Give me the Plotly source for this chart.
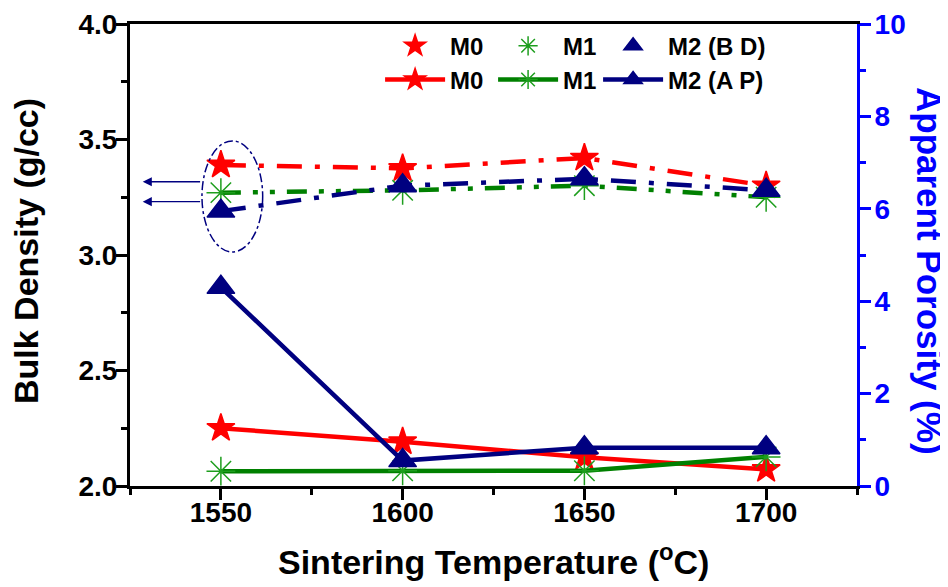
import plotly.graph_objects as go

temps = [1550, 1600, 1650, 1700]

bd_m0 = [3.39, 3.375, 3.42, 3.30]
bd_m1 = [3.27, 3.28, 3.30, 3.25]
bd_m2 = [3.19, 3.30, 3.33, 3.28]

ap_m0 = [1.25, 0.96, 0.62, 0.36]
ap_m1 = [0.32, 0.33, 0.33, 0.63]
ap_m2 = [4.30, 0.55, 0.83, 0.83]

x_ticks = [1550, 1600, 1650, 1700]
y_ticks = [2.0, 2.5, 3.0, 3.5, 4.0]
y2_ticks = [0, 2, 4, 6, 8, 10]

RED = "#FF0000"
GREEN = "#008000"
AST_GREEN = "#1E9E1E"
NAVY = "#000080"
BLUE = "#0000FF"
FONT = "Liberation Sans, Arial, sans-serif"
DASHDOT = "25px,13px,5px,13px"
DASHDOTDOT = "20px,12px,5px,12px,5px,12px"

fig = go.Figure()

series_bd = [
    ("M0", bd_m0, RED, "star", RED, 21, DASHDOT, 38),
    ("M1", bd_m1, GREEN, "asterisk-open", AST_GREEN, 24, DASHDOTDOT, 30),
    ("M2 (B D)", bd_m2, NAVY, "triangle-up", NAVY, 24, DASHDOT, 140),
]
series_ap = [
    ("M0", ap_m0, RED, "star", RED, 21, 38),
    ("M1", ap_m1, GREEN, "asterisk-open", AST_GREEN, 24, 30),
    ("M2 (A P)", ap_m2, NAVY, "triangle-up", NAVY, 24, 140),
]

# Bulk density (dash-dot, left axis)
for name, ys, col, sym, mcol, msize, dash, lw in series_bd:
    fig.add_trace(go.Scatter(
        x=temps, y=ys, name=name, mode="lines+markers", yaxis="y",
        line=dict(color=col, width=4.5, dash=dash),
        marker=dict(symbol=sym, size=msize, color=mcol, line=dict(width=1.5, color=mcol)),
        legend="legend", showlegend=False,
    ))
    # legend entry (markers only)
    fig.add_trace(go.Scatter(
        x=[None], y=[None], name=name, mode="markers", yaxis="y",
        marker=dict(symbol=sym, size=msize, color=mcol, line=dict(width=1.5, color=mcol)),
        legend="legend", showlegend=True, legendwidth=lw,
    ))

# Apparent porosity (solid, right axis)
for name, ys, col, sym, mcol, msize, lw in series_ap:
    fig.add_trace(go.Scatter(
        x=temps, y=ys, name=name, mode="lines+markers", yaxis="y2",
        line=dict(color=col, width=4.5),
        marker=dict(symbol=sym, size=msize, color=mcol, line=dict(width=1.5, color=mcol)),
        legend="legend2", showlegend=True, legendwidth=lw,
    ))

# ellipse highlighting the bulk-density points at 1550 C
fig.add_shape(type="circle", xref="x", yref="y",
              x0=1544.8, x1=1561.5, y0=3.013, y1=3.494,
              line=dict(color=NAVY, width=1.5, dash="dashdot"))

# arrows pointing to the left (bulk density) axis
for yv in [3.317, 3.231]:
    fig.add_annotation(x=1528.5, y=yv, ax=1544.7, ay=yv, xref="x", yref="y",
                       axref="x", ayref="y", text="", showarrow=True,
                       arrowhead=2, arrowsize=1.3, arrowwidth=1.4, arrowcolor=NAVY)

title_font = dict(family=FONT, size=34, color="black", weight="bold")

# axis titles
fig.add_annotation(text="Bulk Density (g/cc)", xref="paper", yref="paper",
                   x=0.0, xshift=-104, y=0.5, yshift=4, xanchor="center", yanchor="middle",
                   textangle=-90, showarrow=False, font=title_font)
fig.add_annotation(text="Sintering Temperature (<sup>o</sup>C)", xref="paper", yref="paper",
                   x=0.5, y=0.0, yshift=-73, xanchor="center", yanchor="middle",
                   showarrow=False, font=title_font)
fig.add_annotation(text="Apparent Porosity (%)", xref="paper", yref="paper",
                   x=1.0, xshift=73, y=0.5, yshift=-16, xanchor="center", yanchor="middle",
                   textangle=90, showarrow=False,
                   font=dict(family=FONT, size=35, color=BLUE, weight="bold"))

axis_common = dict(
    showgrid=False, zeroline=False, ticks="outside", ticklen=11, tickwidth=3,
    linewidth=3, showline=True, automargin=False,
)

# the page body adds an 8px offset, so margins are shifted accordingly
fig.update_layout(
    width=948, height=587,
    margin=dict(l=122, r=99, t=16, b=109),
    plot_bgcolor="white", paper_bgcolor="white",
    font=dict(family=FONT, color="black"),
    xaxis=dict(
        **axis_common, range=[1525, 1725], tickvals=x_ticks, linecolor="black",
        tickcolor="black", mirror=True, ticklabelstandoff=-12,
        minor=dict(dtick=25, tick0=1525, ticks="outside", ticklen=6, tickwidth=3, tickcolor="black"),
        tickfont=dict(family=FONT, size=28, color="black", weight="bold"),
    ),
    yaxis=dict(
        **axis_common, range=[2.0, 4.0], tickvals=y_ticks, tickformat=".1f",
        linecolor="black", tickcolor="black", ticklabelstandoff=-7,
        minor=dict(dtick=0.25, tick0=2.0, ticks="outside", ticklen=6, tickwidth=3, tickcolor="black"),
        tickfont=dict(family=FONT, size=28, color="black", weight="bold"),
    ),
    yaxis2=dict(
        **axis_common, range=[0, 10], tickvals=y2_ticks, overlaying="y", side="right",
        linecolor=BLUE, tickcolor=BLUE, ticklabelstandoff=-2,
        minor=dict(dtick=1, tick0=0, ticks="outside", ticklen=6, tickwidth=3, tickcolor=BLUE),
        tickfont=dict(family=FONT, size=28, color=BLUE, weight="bold"),
    ),
    legend=dict(orientation="h", x=0.344, y=0.952, xanchor="left", yanchor="middle",
                itemwidth=60, bgcolor="rgba(0,0,0,0)",
                font=dict(family=FONT, size=24, color="black", weight="bold")),
    legend2=dict(orientation="h", x=0.344, y=0.879, xanchor="left", yanchor="middle",
                 itemwidth=60, bgcolor="rgba(0,0,0,0)",
                 font=dict(family=FONT, size=24, color="black", weight="bold")),
)

fig.write_html("out.html")
